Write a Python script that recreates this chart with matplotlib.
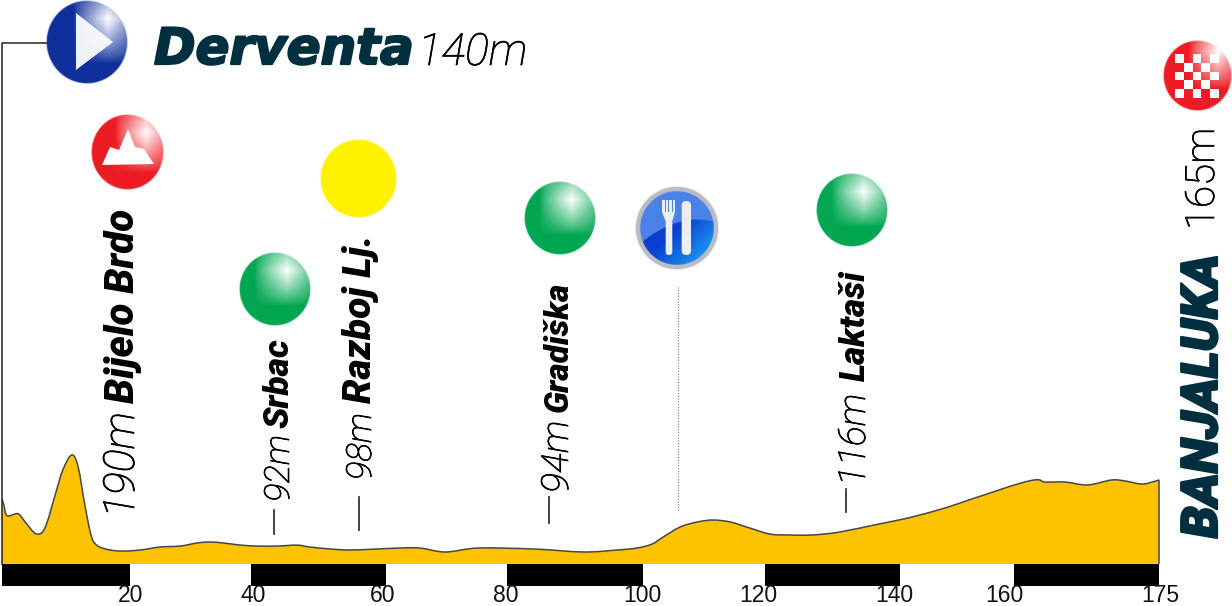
#!/usr/bin/env python3

import numpy as np
import matplotlib
matplotlib.use('Agg')
import matplotlib.pyplot as plt
import matplotlib.patheffects as pe
from matplotlib.patches import Polygon, Rectangle, FancyBboxPatch, PathPatch
from matplotlib.path import Path

W, H = 1232, 606
TEAL = '#00303f'
ROBOTO = ['Roboto', 'DejaVu Sans']

# route profile, km / metres
profile_km = [0, 0.3, 0.8, 2.5, 3.6, 5.3, 6.7, 8.3, 9.5, 10.9, 11.9, 13, 14, 15, 16.9, 18.9,
              21.7, 25, 28.3, 31.1, 33.2, 35.4, 38.2, 40.9, 43.9, 46.8, 48.7, 51.7, 54.7, 58.7,
              62.3, 65.6, 69.8, 75.2, 83.8, 91.2, 96.2, 99.1, 101.5, 103.3, 106.1, 108.9,
              111.5, 114.3, 117.5, 120.7, 123.3, 127, 131.1, 136.9, 142.1, 147.9, 152.6,
              157.9, 162.1, 163.2, 165.3, 167.6, 170.1, 171.5, 173.2, 174.3, 175]
profile_m = [143, 136.7, 125.3, 127.4, 118.9, 106.1, 112.2, 147.3, 173.9, 189.9, 177.1, 134.6,
             102.6, 93, 88.8, 87.7, 88.8, 92, 93, 96.3, 97.3, 96.3, 94.1, 93, 93, 94, 92, 89.9,
             88.8, 89.9, 90.9, 90.9, 86.7, 90.9, 89.9, 86.7, 88.8, 90.9, 95.2, 102.6, 113.3,
             118.6, 120.7, 118.6, 112.2, 105.8, 104.8, 104.8, 108, 116.5, 123.9, 133.5, 143.1,
             153.7, 163.3, 161.1, 161.1, 158, 163.3, 162.2, 159, 161.1, 163.3]

km_ticks = [0, 20, 40, 60, 80, 100, 120, 140, 160, 175]
km_labels = ['20', '40', '60', '80', '100', '120', '140', '160', '175']
# the ticks on the original are not evenly spaced
km_tick_px = [2, 130, 251, 386, 507, 643, 765, 900, 1014, 1159]
km_label_px = [131, 253, 383, 506, 642, 758, 894, 1004, 1160]
black_from = [0, 40, 80, 120, 160]
black_to = [20, 60, 100, 140, 175]

BASE_M = 74
BAR_M = 50.5


def km_to_px(km):
    return np.interp(km, [-0.31] + km_ticks + [182.55], [0] + km_tick_px + [W])


def px_to_km(px):
    return np.interp(px, [0] + km_tick_px + [W], [-0.31] + km_ticks + [182.55])


def curve_codes(xs, ys):
    # catmull-rom through the read points, as bezier segments
    pts = np.column_stack([xs, ys])
    verts = [pts[0]]
    codes = [Path.MOVETO]
    for i in range(len(pts) - 1):
        prev = pts[max(i - 1, 0)]
        nxt = pts[min(i + 2, len(pts) - 1)]
        verts += [pts[i] + (pts[i + 1] - prev) / 6, pts[i + 1] - (nxt - pts[i]) / 6, pts[i + 1]]
        codes += [Path.CURVE4] * 3
    return verts, codes


def disc(ov, cx, cy, rx, ry, colour, glow=(0.4, -0.5), reach=(0.85, 1.05)):
    n = 220
    u, v = np.meshgrid(np.linspace(-1, 1, n), np.linspace(-1, 1, n))
    d = np.hypot(u, v)
    base = np.array(matplotlib.colors.to_rgb(colour))
    img = np.ones((n, n, 4))
    if reach[0] == 0:
        blend = 0 * u
    else:
        blend = np.clip(1 - np.abs(u - glow[0]) / reach[0], 0, 1) * np.clip(1 - np.abs(v - glow[1]) / reach[1], 0, 1)
        blend = blend ** 0.8
    for i in range(3):
        img[..., i] = base[i] + (1 - base[i]) * blend
    img[..., 3] = np.clip((1 - d) * rx, 0, 1)
    ov.imshow(img, extent=(cx - rx, cx + rx, cy + ry, cy - ry), aspect='auto', interpolation='bilinear', zorder=3)


def food_icon(ov, cx, cy):
    n = 240
    u, v = np.meshgrid(np.linspace(-1, 1, n), np.linspace(-1, 1, n))
    d = np.hypot(u, v)
    img = np.ones((n, n, 4))
    rim = np.array(matplotlib.colors.to_rgb('#b9bdc4'))
    top = np.array(matplotlib.colors.to_rgb('#4b82e8'))
    low = np.array(matplotlib.colors.to_rgb('#0a3fd0'))
    hi = np.array(matplotlib.colors.to_rgb('#1d9df2'))
    mix = np.clip((u + v) * 0.7, 0, 1)[..., None]
    body = low * (1 - mix) + hi * mix
    upper = (v < -0.2 + 0.3 * (u - 0.5) ** 2)[..., None]
    body = np.where(upper, top, body)
    img[..., :3] = np.where((d > 0.88)[..., None], rim, body)
    img[..., 3] = np.clip((1 - d) * 42, 0, 1)
    ov.imshow(img, extent=(cx - 42, cx + 42, cy + 42, cy - 42), aspect='auto', interpolation='bilinear', zorder=3)
    silver = '#eceef2'
    # fork handle, neck and tines
    ov.add_patch(FancyBboxPatch((cx - 11.3, cy - 8), 6.6, 35, boxstyle='round,pad=0,rounding_size=3',
                                fc=silver, ec='none', zorder=4))
    ov.add_patch(Polygon([(cx - 15, cy - 28), (cx - 2, cy - 28), (cx - 2, cy - 16), (cx - 5, cy - 6),
                          (cx - 11, cy - 6), (cx - 15, cy - 16)], fc=silver, ec='none', zorder=4))
    for dx in (-12.4, -8.9, -5.4):
        ov.add_patch(Rectangle((cx + dx, cy - 28), 1.0, 12, fc='#4b82e8', ec='none', zorder=5))
    # knife
    ov.add_patch(FancyBboxPatch((cx + 4.7, cy - 27), 9.3, 54, boxstyle='round,pad=0,rounding_size=4.5',
                                fc=silver, ec='none', zorder=4))


fig = plt.figure(figsize=(W / 100, H / 100), dpi=100)
ax = fig.add_axes([0, 0, 1, 1])
ax.set_xscale('function', functions=(km_to_px, px_to_km))
ax.set_xlim(-0.31, 182.55)
ax.set_ylim(92 - 59 / 0.94, 92 + 547 / 0.94)
ax.axis('off')

verts, codes = curve_codes(profile_km, profile_m)
fill_path = Path(verts + [(175, BASE_M), (0, BASE_M), (0, profile_m[0])], codes + [Path.LINETO] * 3)
ax.add_patch(PathPatch(fill_path, fc='#fdc300', ec='none', zorder=2))
line_path = Path(verts + [(175, BASE_M)], codes + [Path.LINETO])
ax.add_patch(PathPatch(line_path, fc='none', ec='#44464a', lw=1.1, zorder=2.5))
for a, b in zip(black_from, black_to):
    ax.fill_between([a, b], BAR_M, BASE_M, color='black', lw=0, zorder=2)

ov = fig.add_axes([0, 0, 1, 1], facecolor='none')
ov.axis('off')

# start corner line
ov.plot([47, 1.5, 1.5], [43, 43, 564], color='#222222', lw=1.1, zorder=1)

for lab, x in zip(km_labels, km_label_px):
    ov.text(x, 596, lab, ha='center', va='center', fontsize=16.5, family=['Liberation Sans'], color='#111111')

# icons
disc(ov, 87, 42, 41, 42, '#0f2f9b', glow=(0.52, -0.55))
ov.add_patch(Polygon([(76, 13), (76, 70), (113, 42)], fc='white', alpha=0.93, ec='none', zorder=4))
disc(ov, 127.5, 152, 36.5, 38, '#ed1c24', glow=(0.52, -0.52))
ov.add_patch(Polygon([(102, 165), (110, 147), (119, 150), (128, 129), (135, 147), (144, 149), (154, 164)],
                     fc='white', ec='none', zorder=4))
disc(ov, 358, 179, 38.5, 39.5, '#fff200', reach=(0, 1))
disc(ov, 274.5, 289, 36, 37, '#00a651', glow=(0.33, -0.5), reach=(0.9, 0.95))
disc(ov, 560, 218, 36, 37, '#00a651', glow=(0.33, -0.5), reach=(0.9, 0.95))
disc(ov, 852, 210, 36, 37, '#00a651', glow=(0.33, -0.5), reach=(0.9, 0.95))
food_icon(ov, 677, 228)
disc(ov, 1197, 76, 34.5, 35.5, '#ed1c24', glow=(0.6, -0.7))
for r in range(5):
    for c in range(5):
        if (r + c) % 2 == 0:
            ov.add_patch(Rectangle((1175 + c * 8.8, 54 + r * 8.8), 8.8, 8.8, fc='white', ec='none', zorder=4))

# feed zone dotted mark
ov.plot([678, 678], [287, 512], color='#777777', lw=0.8, ls=(0, (1, 1.5)), zorder=1)

# town marks
for x, y0, y1 in [(274, 510, 534), (359, 497, 530), (549, 497, 523), (846, 489, 512)]:
    ov.plot([x, x], [y0, y1], color='#222222', lw=1.2, zorder=1)

thick = [pe.withStroke(linewidth=1.6, foreground=TEAL)]
# the light weight comes out grey at this size, darken it a bit
dark = [pe.withStroke(linewidth=0.5, foreground='black')]
ov.text(154, 64, 'Derventa', fontsize=36, color=TEAL, family=['DejaVu Sans'], weight='bold',
        style='italic', ha='left', va='baseline', path_effects=thick)
ov.text(418, 65, '140m', fontsize=32, color='black', family=ROBOTO, weight='light',
        style='italic', ha='left', va='baseline', path_effects=dark)

# height text, its bottom y and size, then name, its bottom y and size, baseline x
for ht, hy, hs, name, ny, ns, bx in [('190m', 518, 31, 'Bijelo Brdo', 403, 29, 134),
                                     ('92m', 502, 25, 'Srbac', 428, 25.5, 289),
                                     ('98m', 480, 25, 'Razboj Lj.', 403, 28, 371),
                                     ('94m', 493, 27, 'Gradiška', 412, 24, 568),
                                     ('116m', 486, 27, 'Laktaši', 381, 25, 865)]:
    ov.text(bx, hy, ht, rotation=90, rotation_mode='anchor', fontsize=hs, color='black',
            family=ROBOTO, weight='light', style='italic', ha='left', va='baseline', path_effects=dark)
    ov.text(bx, ny, name, rotation=90, rotation_mode='anchor', fontsize=ns, color='black',
            family=ROBOTO, weight='black', style='italic', ha='left', va='baseline')

ov.text(1214, 230, '165m', rotation=90, rotation_mode='anchor', fontsize=29, color='black',
        family=ROBOTO, weight='light', ha='left', va='baseline', path_effects=dark)
ov.text(1217, 538, 'BANJALUKA', rotation=90, rotation_mode='anchor', fontsize=36.3, color=TEAL,
        family=ROBOTO, weight='black', style='italic', ha='left', va='baseline', path_effects=thick)

ov.set_xlim(0, W)
ov.set_ylim(H, 0)
fig.savefig('out.png', dpi=100)
